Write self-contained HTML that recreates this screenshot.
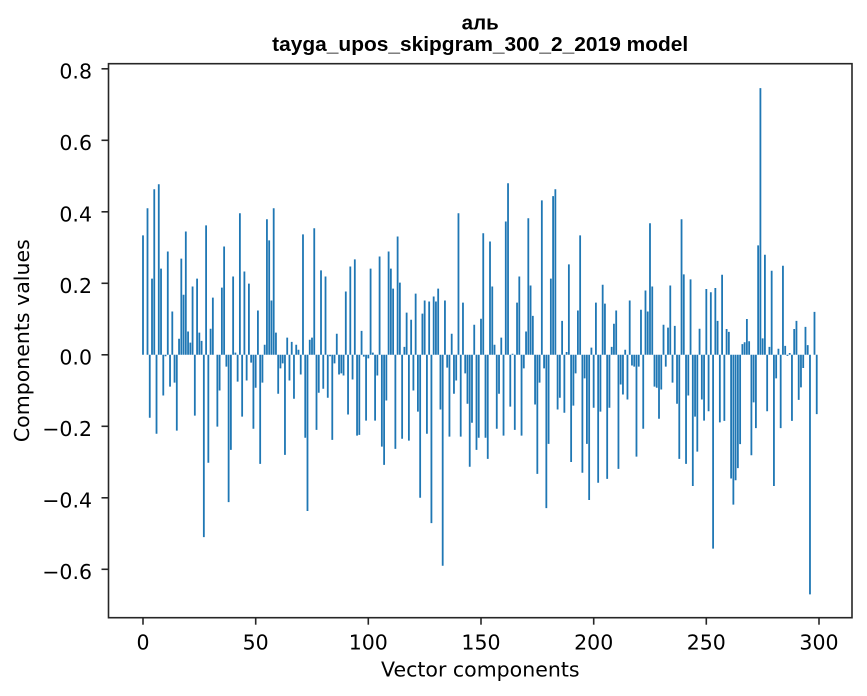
<!DOCTYPE html>
<html><head><meta charset="utf-8"><style>
html,body{margin:0;padding:0;background:#fff;}
svg{display:block;}
text{font-family:"DejaVu Sans","Liberation Sans",sans-serif;fill:#000;}
.t{font-family:"Liberation Sans","DejaVu Sans",sans-serif;font-weight:bold;font-size:20.5px;}
.tk{font-size:20.5px;}
</style></head><body>
<svg width="867" height="696" viewBox="0 0 867 696" xmlns="http://www.w3.org/2000/svg">
<rect width="867" height="696" fill="#fff"/>
<g transform="translate(143,354.8) scale(2.2533,-357.5)">
<path fill="#1f77b4" d="M-.4 0
h.8v.334h-.8zm1 0
m1 0
h.8v.41h-.8zm1 0
h.8v-.176h-.8zm1 0
h.8v.213h-.8zm1 0
h.8v.463h-.8zm1 0
h.8v-.221h-.8zm1 0
h.8v.477h-.8zm1 0
h.8v.241h-.8zm1 0
h.8v-.114h-.8zm1 0
h.8v-.004h-.8zm1 0
h.8v.289h-.8zm1 0
h.8v-.089h-.8zm1 0
h.8v.121h-.8zm1 0
h.8v-.078h-.8zm1 0
h.8v-.212h-.8zm1 0
h.8v.045h-.8zm1 0
h.8v.269h-.8zm1 0
h.8v.168h-.8zm1 0
h.8v.345h-.8zm1 0
h.8v.065h-.8zm1 0
h.8v.034h-.8zm1 0
h.8v.191h-.8zm1 0
h.8v-.17h-.8zm1 0
h.8v.213h-.8zm1 0
h.8v.062h-.8zm1 0
h.8v.039h-.8zm1 0
h.8v-.51h-.8zm1 0
h.8v.362h-.8zm1 0
h.8v-.302h-.8zm1 0
h.8v.073h-.8zm1 0
h.8v.16h-.8zm1 0
m1 0
h.8v-.201h-.8zm1 0
h.8v-.1h-.8zm1 0
h.8v.188h-.8zm1 0
h.8v.303h-.8zm1 0
h.8v-.033h-.8zm1 0
h.8v-.412h-.8zm1 0
h.8v-.266h-.8zm1 0
h.8v.219h-.8zm1 0
h.8v.006h-.8zm1 0
h.8v-.075h-.8zm1 0
h.8v.396h-.8zm1 0
h.8v-.173h-.8zm1 0
h.8v.233h-.8zm1 0
h.8v-.072h-.8zm1 0
h.8v.199h-.8zm1 0
h.8v-.022h-.8zm1 0
h.8v-.207h-.8zm1 0
h.8v-.092h-.8zm1 0
h.8v.124h-.8zm1 0
h.8v-.305h-.8zm1 0
h.8v-.078h-.8zm1 0
h.8v.028h-.8zm1 0
h.8v.379h-.8zm1 0
h.8v.32h-.8zm1 0
h.8v.152h-.8zm1 0
h.8v.41h-.8zm1 0
h.8v.062h-.8zm1 0
h.8v-.109h-.8zm1 0
h.8v-.038h-.8zm1 0
h.8v-.024h-.8zm1 0
h.8v-.28h-.8zm1 0
h.8v.048h-.8zm1 0
h.8v-.072h-.8zm1 0
h.8v.036h-.8zm1 0
h.8v-.123h-.8zm1 0
h.8v.028h-.8zm1 0
h.8v.014h-.8zm1 0
h.8v-.055h-.8zm1 0
h.8v.337h-.8zm1 0
h.8v-.232h-.8zm1 0
h.8v-.437h-.8zm1 0
h.8v.042h-.8zm1 0
h.8v.048h-.8zm1 0
h.8v.354h-.8zm1 0
h.8v-.21h-.8zm1 0
h.8v-.106h-.8zm1 0
h.8v.236h-.8zm1 0
h.8v-.095h-.8zm1 0
h.8v.219h-.8zm1 0
h.8v-.12h-.8zm1 0
h.8v-.004h-.8zm1 0
h.8v-.238h-.8zm1 0
h.8v-.024h-.8zm1 0
h.8v.059h-.8zm1 0
h.8v-.055h-.8zm1 0
h.8v-.052h-.8zm1 0
h.8v-.058h-.8zm1 0
h.8v.177h-.8zm1 0
h.8v-.167h-.8zm1 0
h.8v.247h-.8zm1 0
h.8v-.069h-.8zm1 0
h.8v.267h-.8zm1 0
h.8v-.226h-.8zm1 0
h.8v-.224h-.8zm1 0
h.8v.067h-.8zm1 0
h.8v-.005h-.8zm1 0
h.8v-.184h-.8zm1 0
h.8v-.01h-.8zm1 0
h.8v.241h-.8zm1 0
h.8v.006h-.8zm1 0
h.8v-.184h-.8zm1 0
h.8v-.058h-.8zm1 0
h.8v.275h-.8zm1 0
h.8v-.257h-.8zm1 0
h.8v-.308h-.8zm1 0
h.8v-.128h-.8zm1 0
h.8v.289h-.8zm1 0
h.8v.241h-.8zm1 0
h.8v.185h-.8zm1 0
h.8v-.263h-.8zm1 0
h.8v.331h-.8zm1 0
h.8v.202h-.8zm1 0
h.8v-.235h-.8zm1 0
h.8v.022h-.8zm1 0
h.8v.118h-.8zm1 0
h.8v-.24h-.8zm1 0
h.8v.098h-.8zm1 0
h.8v-.1h-.8zm1 0
h.8v.171h-.8zm1 0
h.8v-.159h-.8zm1 0
h.8v-.4h-.8zm1 0
h.8v.115h-.8zm1 0
h.8v.152h-.8zm1 0
h.8v-.221h-.8zm1 0
h.8v.149h-.8zm1 0
h.8v-.471h-.8zm1 0
h.8v.163h-.8zm1 0
h.8v.149h-.8zm1 0
h.8v.185h-.8zm1 0
h.8v-.153h-.8zm1 0
h.8v-.59h-.8zm1 0
h.8v.152h-.8zm1 0
h.8v-.036h-.8zm1 0
h.8v-.229h-.8zm1 0
h.8v.059h-.8zm1 0
h.8v-.109h-.8zm1 0
h.8v-.072h-.8zm1 0
h.8v.396h-.8zm1 0
h.8v-.229h-.8zm1 0
h.8v.146h-.8zm1 0
h.8v-.052h-.8zm1 0
h.8v-.137h-.8zm1 0
h.8v-.313h-.8zm1 0
h.8v-.19h-.8zm1 0
h.8v.084h-.8zm1 0
h.8v-.266h-.8zm1 0
h.8v-.232h-.8zm1 0
h.8v.101h-.8zm1 0
h.8v.34h-.8zm1 0
h.8v-.232h-.8zm1 0
h.8v-.291h-.8zm1 0
h.8v.317h-.8zm1 0
h.8v.191h-.8zm1 0
h.8v.028h-.8zm1 0
h.8v-.207h-.8zm1 0
h.8v-.109h-.8zm1 0
h.8v.048h-.8zm1 0
h.8v-.226h-.8zm1 0
h.8v.373h-.8zm1 0
h.8v.48h-.8zm1 0
h.8v-.145h-.8zm1 0
h.8v.003h-.8zm1 0
h.8v-.21h-.8zm1 0
h.8v.146h-.8zm1 0
h.8v.219h-.8zm1 0
h.8v-.226h-.8zm1 0
h.8v-.038h-.8zm1 0
h.8v.065h-.8zm1 0
h.8v.382h-.8zm1 0
h.8v.194h-.8zm1 0
h.8v.109h-.8zm1 0
h.8v-.139h-.8zm1 0
h.8v-.333h-.8zm1 0
h.8v-.078h-.8zm1 0
h.8v.432h-.8zm1 0
h.8v-.038h-.8zm1 0
h.8v-.429h-.8zm1 0
h.8v-.249h-.8zm1 0
h.8v.213h-.8zm1 0
h.8v.444h-.8zm1 0
h.8v.463h-.8zm1 0
h.8v-.153h-.8zm1 0
h.8v-.12h-.8zm1 0
h.8v.095h-.8zm1 0
h.8v-.162h-.8zm1 0
h.8v.008h-.8zm1 0
h.8v.253h-.8zm1 0
h.8v-.3h-.8zm1 0
h.8v-.142h-.8zm1 0
h.8v-.052h-.8zm1 0
h.8v.124h-.8zm1 0
h.8v.334h-.8zm1 0
h.8v-.33h-.8zm1 0
h.8v-.066h-.8zm1 0
h.8v-.249h-.8zm1 0
h.8v-.406h-.8zm1 0
h.8v.02h-.8zm1 0
h.8v-.148h-.8zm1 0
h.8v.146h-.8zm1 0
h.8v-.358h-.8zm1 0
h.8v-.159h-.8zm1 0
h.8v.196h-.8zm1 0
h.8v.143h-.8zm1 0
h.8v-.347h-.8zm1 0
h.8v-.148h-.8zm1 0
h.8v.022h-.8zm1 0
h.8v.087h-.8zm1 0
h.8v.124h-.8zm1 0
h.8v-.319h-.8zm1 0
h.8v-.083h-.8zm1 0
h.8v-.111h-.8zm1 0
h.8v.014h-.8zm1 0
h.8v-.125h-.8zm1 0
h.8v.152h-.8zm1 0
h.8v-.03h-.8zm1 0
h.8v-.033h-.8zm1 0
h.8v-.285h-.8zm1 0
h.8v-.033h-.8zm1 0
h.8v.126h-.8zm1 0
h.8v-.207h-.8zm1 0
h.8v.18h-.8zm1 0
h.8v.121h-.8zm1 0
h.8v.368h-.8zm1 0
h.8v.191h-.8zm1 0
h.8v-.089h-.8zm1 0
h.8v-.092h-.8zm1 0
h.8v-.179h-.8zm1 0
h.8v-.097h-.8zm1 0
h.8v.084h-.8zm1 0
h.8v-.033h-.8zm1 0
h.8v.076h-.8zm1 0
h.8v.194h-.8zm1 0
h.8v-.078h-.8zm1 0
h.8v.081h-.8zm1 0
h.8v-.137h-.8zm1 0
h.8v-.291h-.8zm1 0
h.8v.379h-.8zm1 0
h.8v.225h-.8zm1 0
h.8v-.305h-.8zm1 0
h.8v-.114h-.8zm1 0
h.8v.211h-.8zm1 0
h.8v-.367h-.8zm1 0
h.8v-.173h-.8zm1 0
h.8v-.271h-.8zm1 0
h.8v.073h-.8zm1 0
h.8v-.125h-.8zm1 0
h.8v-.184h-.8zm1 0
h.8v.184h-.8zm1 0
h.8v-.158h-.8zm1 0
h.8v.175h-.8zm1 0
h.8v-.542h-.8zm1 0
h.8v.187h-.8zm1 0
h.8v.095h-.8zm1 0
h.8v-.189h-.8zm1 0
h.8v.224h-.8zm1 0
h.8v-.185h-.8zm1 0
h.8v.072h-.8zm1 0
h.8v.064h-.8zm1 0
h.8v-.346h-.8zm1 0
h.8v-.419h-.8zm1 0
h.8v-.351h-.8zm1 0
h.8v-.317h-.8zm1 0
h.8v-.25h-.8zm1 0
h.8v.03h-.8zm1 0
h.8v.035h-.8zm1 0
h.8v.1h-.8zm1 0
h.8v.038h-.8zm1 0
h.8v-.281h-.8zm1 0
h.8v-.133h-.8zm1 0
h.8v-.205h-.8zm1 0
h.8v.306h-.8zm1 0
h.8v.746h-.8zm1 0
h.8v.046h-.8zm1 0
h.8v.28h-.8zm1 0
h.8v-.158h-.8zm1 0
h.8v.022h-.8zm1 0
h.8v.235h-.8zm1 0
h.8v-.367h-.8zm1 0
h.8v-.066h-.8zm1 0
h.8v.017h-.8zm1 0
h.8v-.205h-.8zm1 0
h.8v.249h-.8zm1 0
h.8v.025h-.8zm1 0
h.8v-.003h-.8zm1 0
h.8v.005h-.8zm1 0
h.8v-.185h-.8zm1 0
h.8v.072h-.8zm1 0
h.8v.095h-.8zm1 0
h.8v-.126h-.8zm1 0
h.8v-.091h-.8zm1 0
h.8v-.037h-.8zm1 0
h.8v.078h-.8zm1 0
h.8v.027h-.8zm1 0
h.8v-.67h-.8zm1 0
m1 0
h.8v.12h-.8zm1 0
h.8v-.166h-.8zm1 0"/>
</g>
<rect x="108.5" y="63.7" width="743.5" height="554" fill="none" stroke="#262626" stroke-width="1.6"/>
<g stroke="#262626" stroke-width="1.6">
<line x1="143" y1="617.7" x2="143" y2="624.7"/>
<line x1="255.7" y1="617.7" x2="255.7" y2="624.7"/>
<line x1="368.3" y1="617.7" x2="368.3" y2="624.7"/>
<line x1="481" y1="617.7" x2="481" y2="624.7"/>
<line x1="593.7" y1="617.7" x2="593.7" y2="624.7"/>
<line x1="706.3" y1="617.7" x2="706.3" y2="624.7"/>
<line x1="819" y1="617.7" x2="819" y2="624.7"/>
<line x1="101.5" y1="68.8" x2="108.5" y2="68.8"/>
<line x1="101.5" y1="140.3" x2="108.5" y2="140.3"/>
<line x1="101.5" y1="211.8" x2="108.5" y2="211.8"/>
<line x1="101.5" y1="283.3" x2="108.5" y2="283.3"/>
<line x1="101.5" y1="354.8" x2="108.5" y2="354.8"/>
<line x1="101.5" y1="426.3" x2="108.5" y2="426.3"/>
<line x1="101.5" y1="497.8" x2="108.5" y2="497.8"/>
<line x1="101.5" y1="569.3" x2="108.5" y2="569.3"/>
</g>
<g class="tk" text-anchor="middle">
<text x="143" y="649.3">0</text>
<text x="255.7" y="649.3">50</text>
<text x="368.3" y="649.3">100</text>
<text x="481" y="649.3">150</text>
<text x="593.7" y="649.3">200</text>
<text x="706.3" y="649.3">250</text>
<text x="819" y="649.3">300</text>
</g>
<g class="tk" text-anchor="end">
<text x="92" y="78.6">0.8</text>
<text x="92" y="150.1">0.6</text>
<text x="92" y="221.6">0.4</text>
<text x="92" y="293.1">0.2</text>
<text x="92" y="364.6">0.0</text>
<text x="92" y="436.1">−0.2</text>
<text x="92" y="507.6">−0.4</text>
<text x="92" y="579.1">−0.6</text>
</g>
<text class="tk" x="480.3" y="676.5" text-anchor="middle">Vector components</text>
<text class="tk" transform="translate(29,340.7) rotate(-90)" text-anchor="middle">Components values</text>
<text class="t" x="480.2" y="29.5" text-anchor="middle">аль</text>
<text class="t" x="480.2" y="51.2" text-anchor="middle" textLength="416" lengthAdjust="spacingAndGlyphs">tayga_upos_skipgram_300_2_2019 model</text>
</svg>
</body></html>
